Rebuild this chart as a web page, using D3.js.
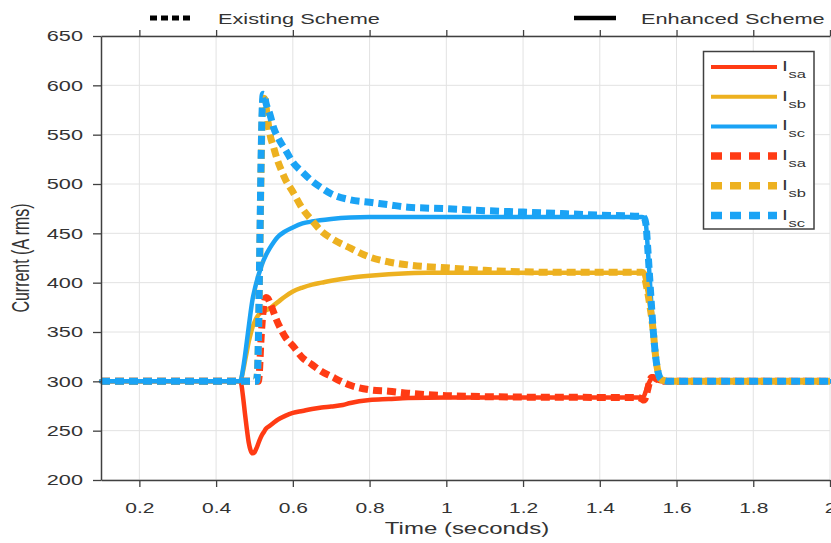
<!DOCTYPE html>
<html>
<head>
<meta charset="utf-8">
<script src="https://cdn.jsdelivr.net/npm/d3@7"></script>
<style>
  html, body { margin: 0; padding: 0; background: #fff; }
  svg { display: block; font-family: "Liberation Sans", Arial, Helvetica, sans-serif; }
</style>
</head>
<body>
<svg id="chart" width="831" height="543"></svg>
<script>
// Phase currents (A rms) versus time (s), [time, current] pairs.
const isaEnhanced = [[0.1,300],[0.3,300],[0.46,300],[0.465,298],[0.47,285],[0.475,268],[0.48,252],[0.485,238],[0.49,230],[0.495,227],[0.5,228],[0.505,232],[0.51,237],[0.515,242],[0.52,246],[0.525,249],[0.53,252],[0.54,255],[0.55,258],[0.56,261],[0.58,265],[0.6,268],[0.625,270],[0.65,272],[0.675,273.5],[0.7,274.5],[0.73,276],[0.75,278],[0.8,281],[0.85,282],[0.9,283],[1.0,283.5],[1.2,283.5],[1.4,283.5],[1.51,283.5],[1.515,285],[1.52,290],[1.525,296],[1.53,300],[1.535,303],[1.54,303],[1.55,301],[1.56,300],[2.0,300]];
const isbEnhanced = [[0.1,300],[0.3,300],[0.46,300],[0.465,302],[0.47,310],[0.475,320],[0.48,330],[0.485,340],[0.49,348],[0.495,355],[0.5,360],[0.505,364],[0.51,367],[0.515,369],[0.52,370],[0.525,371],[0.53,372],[0.54,374],[0.55,377],[0.56,380],[0.58,386],[0.6,391],[0.625,395],[0.65,398],[0.675,400],[0.7,402],[0.75,405],[0.8,407],[0.85,408.5],[0.9,409.5],[0.95,410],[1.2,410],[1.51,410],[1.515,408],[1.52,400],[1.525,390],[1.53,378],[1.535,365],[1.54,348],[1.545,327],[1.55,313],[1.555,305],[1.56,302],[1.57,300.5],[1.58,300],[2.0,300]];
const iscEnhanced = [[0.1,300],[0.3,300],[0.46,300],[0.465,302],[0.47,312],[0.475,325],[0.48,340],[0.485,355],[0.49,370],[0.495,383],[0.5,392],[0.505,400],[0.51,407],[0.515,413],[0.52,419],[0.53,428],[0.54,435],[0.55,441],[0.56,446],[0.58,452],[0.6,456],[0.625,460],[0.65,462],[0.7,464.5],[0.75,466],[0.8,466.5],[1.2,466.5],[1.51,466.5],[1.515,466],[1.52,460],[1.525,435],[1.53,405],[1.535,375],[1.54,348],[1.545,327],[1.55,313],[1.555,305],[1.56,302],[1.57,300.5],[1.58,300],[2.0,300]];
const isaExisting = [[0.1,300],[0.3,300],[0.51,300],[0.513,310],[0.516,335],[0.52,360],[0.525,378],[0.53,385],[0.535,384],[0.54,380],[0.55,370],[0.56,360],[0.57,352],[0.58,345],[0.6,336],[0.625,324],[0.65,317],[0.675,310],[0.7,305],[0.75,296],[0.8,291.5],[0.85,290],[0.9,288],[1.0,285.5],[1.1,284.5],[1.2,284],[1.5,283.5],[1.51,282],[1.515,281],[1.52,284],[1.525,292],[1.53,300],[1.535,304],[1.54,304],[1.55,302],[1.56,300.5],[1.57,300],[2.0,300]];
const isbExisting = [[0.1,300],[0.3,300],[0.505,300],[0.508,310],[0.511,355],[0.514,430],[0.517,510],[0.52,565],[0.524,587],[0.528,585],[0.532,572],[0.54,551],[0.55,537],[0.56,524],[0.57,514],[0.58,505],[0.6,492],[0.625,475],[0.65,463],[0.675,452],[0.7,445],[0.75,435],[0.8,426],[0.85,421],[0.9,418],[1.0,415],[1.1,412.5],[1.2,411],[1.3,410.5],[1.51,410.5],[1.515,409],[1.52,400],[1.525,390],[1.53,378],[1.535,365],[1.54,348],[1.545,327],[1.55,313],[1.555,305],[1.56,302],[1.57,300.5],[1.58,300],[2.0,300]];
const iscExisting = [[0.1,300],[0.3,300],[0.505,300],[0.508,310],[0.511,360],[0.514,440],[0.517,520],[0.52,575],[0.523,591],[0.526,590],[0.53,582],[0.54,571],[0.55,557],[0.56,548],[0.57,541],[0.58,535],[0.6,522],[0.625,512],[0.65,503],[0.675,496],[0.7,490],[0.75,484],[0.8,481.5],[0.85,479],[0.9,476.5],[1.0,475],[1.1,473],[1.2,471.5],[1.3,470],[1.4,468.5],[1.51,467],[1.515,466],[1.52,460],[1.525,435],[1.53,405],[1.535,375],[1.54,348],[1.545,327],[1.55,313],[1.555,305],[1.56,302],[1.57,300.5],[1.58,300],[2.0,300]];

const xTicks = [0.2, 0.4, 0.6, 0.8, 1, 1.2, 1.4, 1.6, 1.8, 2];
const xTickLabels = ["0.2", "0.4", "0.6", "0.8", "1", "1.2", "1.4", "1.6", "1.8", "2"];
const yTicks = [200, 250, 300, 350, 400, 450, 500, 550, 600, 650];

const seriesNames = ["sa", "sb", "sc", "sa", "sb", "sc"];
const seriesColors = ["#ff3b14", "#edb120", "#1aa3f5", "#ff3b14", "#edb120", "#1aa3f5"];
const seriesDashed = [false, false, false, true, true, true];
const seriesData = [isaEnhanced, isbEnhanced, iscEnhanced, isaExisting, isbExisting, iscExisting];

const svg = d3.select("#chart");
const plot = { left: 101, right: 830, top: 36, bottom: 480 };
const SX = 1.5;          // horizontal stretch of the lettering
const textColor = "#333";

const x = d3.scaleLinear().domain([0.1, 2]).range([plot.left, plot.right]);
const y = d3.scaleLinear().domain([200, 650]).range([plot.bottom, plot.top]);

svg.append("rect").attr("x", 0).attr("y", 0).attr("width", 831).attr("height", 543).attr("fill", "#fff");

// grid
const grid = svg.append("g").attr("stroke", "#e2e2e2").attr("stroke-width", 1);
grid.selectAll("line.gx").data(xTicks).join("line")
  .attr("x1", d => x(d)).attr("x2", d => x(d))
  .attr("y1", plot.top).attr("y2", plot.bottom);
grid.selectAll("line.gy").data(yTicks).join("line")
  .attr("x1", plot.left).attr("x2", plot.right)
  .attr("y1", d => y(d)).attr("y2", d => y(d));

// curves
const line = d3.line().x(d => x(d[0])).y(d => y(d[1])).curve(d3.curveMonotoneX);
const curves = svg.append("g").attr("fill", "none").attr("stroke-linejoin", "round");
seriesData.forEach((data, i) => {
  curves.append("path")
    .datum(data)
    .attr("d", line)
    .attr("stroke", seriesColors[i])
    .attr("stroke-width", seriesDashed[i] ? 7 : 4.5)
    .attr("stroke-linecap", seriesDashed[i] ? "butt" : "round")
    .attr("stroke-dasharray", seriesDashed[i] ? "9,5" : null);
});

// axes
function styleAxis(g) {
  g.select(".domain").attr("stroke", "#404040").attr("stroke-width", 1.5);
  g.selectAll(".tick line").attr("stroke", "#404040").attr("stroke-width", 1.3);
  g.selectAll(".tick text").attr("fill", textColor).attr("font-size", 14);
}
const xAxis = svg.append("g").attr("transform", `translate(0,${plot.bottom})`)
  .call(d3.axisBottom(x).tickValues(xTicks).tickFormat((d, i) => xTickLabels[i]).tickSize(7).tickSizeOuter(0))
  .call(styleAxis);
xAxis.selectAll(".tick text").attr("y", 0).attr("dy", null)
  .attr("transform", `translate(0,33) scale(${SX},1)`);

svg.append("g").attr("transform", `translate(0,${plot.top})`)
  .call(d3.axisTop(x).tickValues(xTicks).tickFormat("").tickSize(6).tickSizeOuter(0))
  .call(styleAxis);

const yAxis = svg.append("g").attr("transform", `translate(${plot.left},0)`)
  .call(d3.axisLeft(y).tickValues(yTicks).tickSize(8).tickSizeOuter(0))
  .call(styleAxis);
yAxis.selectAll(".tick text").attr("x", 0).attr("dy", null).attr("y", 0)
  .attr("dominant-baseline", "central")
  .attr("transform", `translate(-18,0) scale(${SX + 0.05},1)`);

// axis titles
svg.append("text")
  .attr("transform", `translate(467,534) scale(${SX},1)`)
  .attr("text-anchor", "middle").attr("font-size", 16).attr("fill", textColor)
  .text("Time (seconds)");
svg.append("text")
  .attr("transform", `translate(29,258) scale(${SX},1) rotate(-90)`)
  .attr("text-anchor", "middle").attr("font-size", 16).attr("fill", textColor)
  .text("Current (A rms)");

// scheme legend above the axes
const schemeLegend = svg.append("g");
schemeLegend.append("line").attr("x1", 150).attr("x2", 190).attr("y1", 18).attr("y2", 18)
  .attr("stroke", "#000").attr("stroke-width", 5).attr("stroke-dasharray", "7,4");
schemeLegend.append("text").attr("transform", `translate(218,24) scale(${SX - 0.05},1)`)
  .attr("font-size", 15).attr("fill", textColor).text("Existing Scheme");
schemeLegend.append("line").attr("x1", 574).attr("x2", 616).attr("y1", 18).attr("y2", 18)
  .attr("stroke", "#000").attr("stroke-width", 4.5);
schemeLegend.append("text").attr("transform", `translate(641,24) scale(${SX - 0.05},1)`)
  .attr("font-size", 15).attr("fill", textColor).text("Enhanced Scheme");

// phase legend box
const phaseLegend = svg.append("g");
phaseLegend.append("rect").attr("x", 703.5).attr("y", 51.5).attr("width", 110.5).attr("height", 177.5)
  .attr("fill", "#fff").attr("stroke", "#404040").attr("stroke-width", 1.5);
seriesNames.forEach((name, i) => {
  const cy = 67 + i * 29.7;
  phaseLegend.append("line").attr("x1", 711).attr("x2", 777).attr("y1", cy).attr("y2", cy)
    .attr("stroke", seriesColors[i])
    .attr("stroke-width", seriesDashed[i] ? 7.5 : 4)
    .attr("stroke-dasharray", seriesDashed[i] ? "11,8" : null);
  const t = phaseLegend.append("text").attr("transform", `translate(782,${cy + 4}) scale(${SX},1)`)
    .attr("fill", textColor).attr("font-size", 14);
  t.append("tspan").text("I");
  t.append("tspan").attr("font-size", 11).attr("dy", 7).attr("dx", 0.5).text(name);
});
</script>
</body>
</html>
